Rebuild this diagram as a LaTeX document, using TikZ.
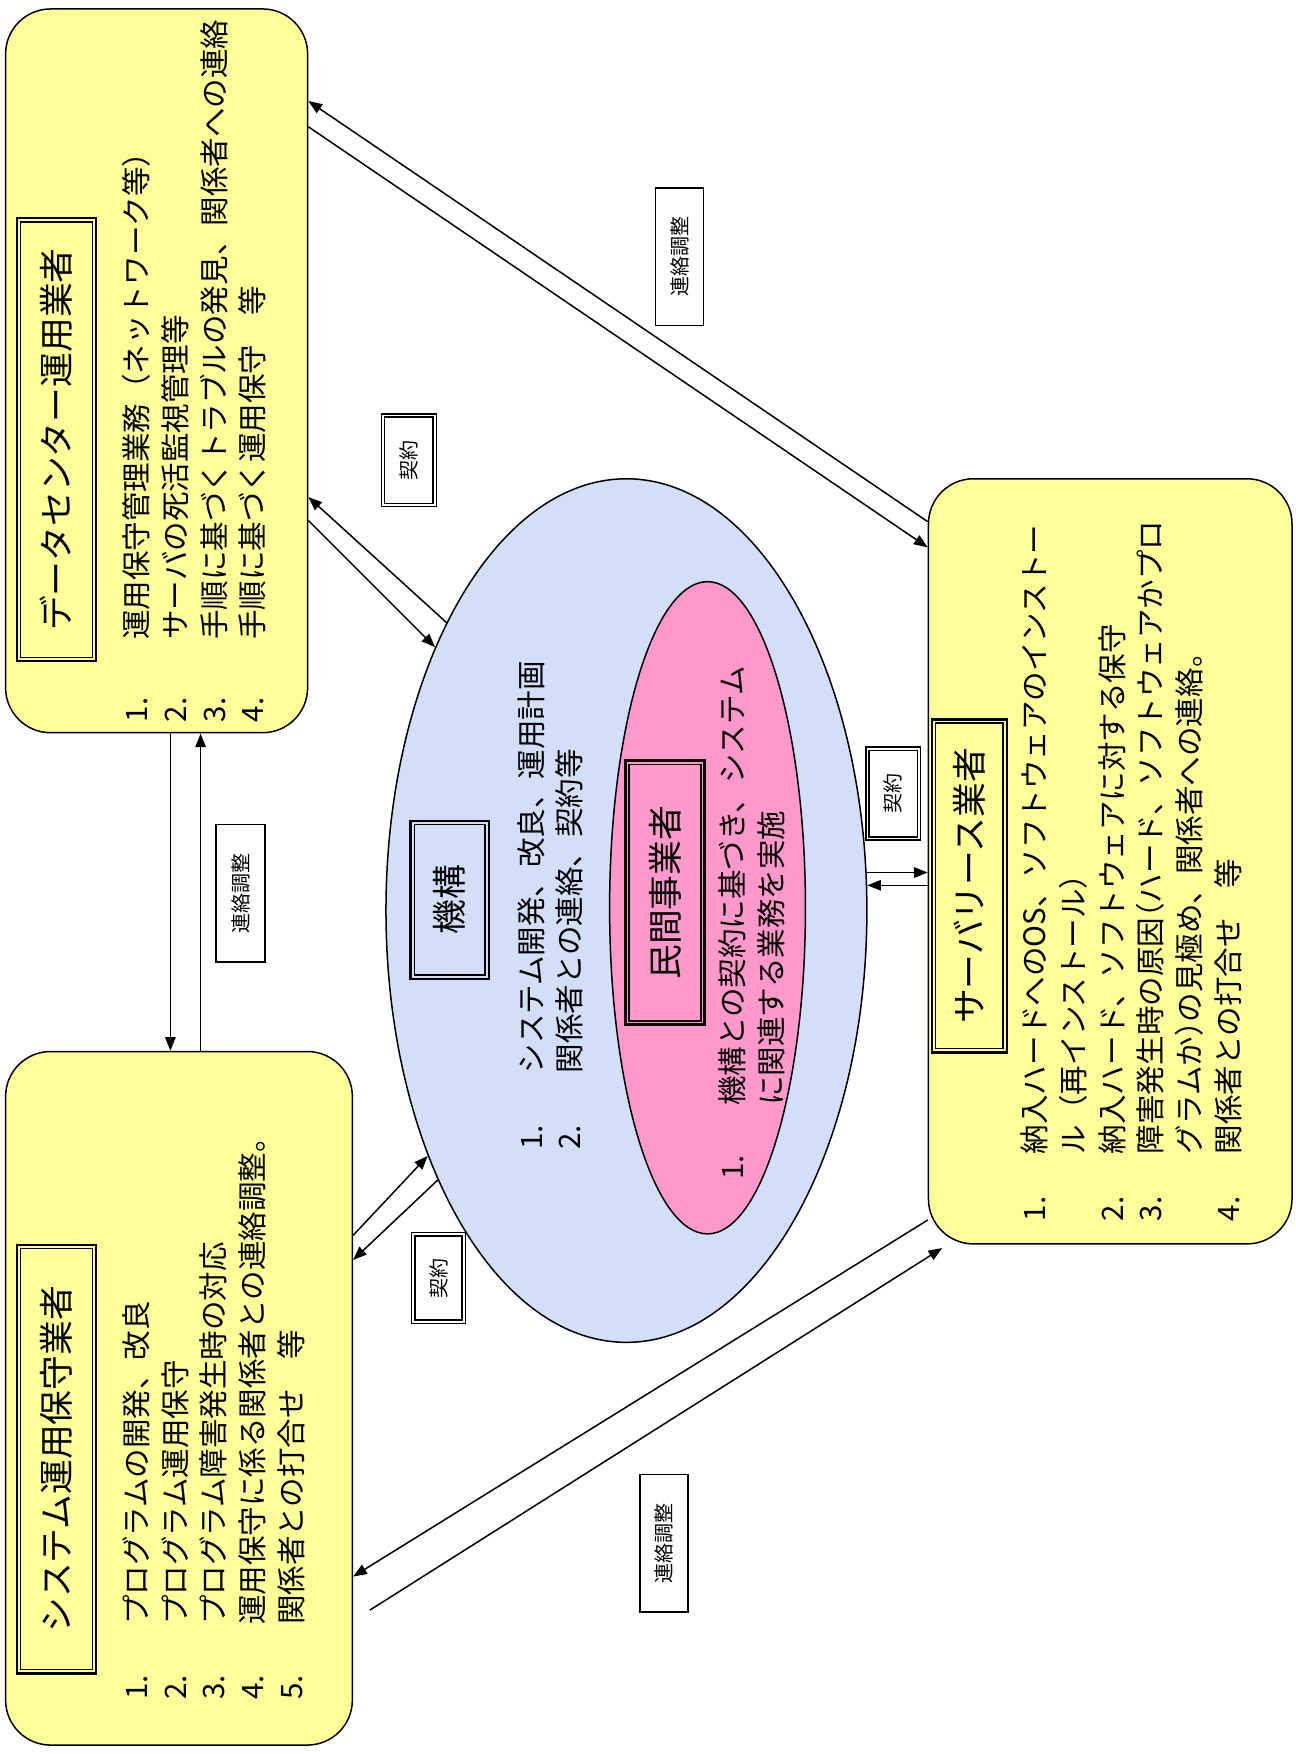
\documentclass[tikz,border=0pt]{standalone}
\usepackage{fontspec}
\setmainfont{Noto Sans CJK JP}
\usetikzlibrary{arrows.meta,calc,fit,shapes.geometric}

\definecolor{panelyellow}{RGB}{255,255,153}
\definecolor{agencyblue}{RGB}{211,222,248}
\definecolor{privatepink}{RGB}{255,153,204}

% numbered list helpers
\newlength\numw
\newcommand\numitem[1]{\makebox[\numw][l]{#1}}
\newcommand\contline{\hspace*{\numw}}
% half-width full-form parentheses
\newcommand\po{\makebox[.5em][r]{（}}
\newcommand\pc{\makebox[.5em][l]{）}}
% thin second frame inside a named box
\newcommand\innerframe[3]{\draw[line width=#3] ($(#1.north west)+(#2,#2)$) rectangle ($(#1.south east)-(#2,#2)$);}

\tikzset{
  panel/.style={draw, line width=0.6pt, fill=panelyellow, rounded corners=18pt, inner sep=0pt},
  titlebox/.style={draw, line width=1pt, inner sep=0pt},
  titletext/.style={rotate=90, inner sep=0pt, font=\fontsize{13.9pt}{16pt}\selectfont},
  listtext/.style={rotate=90, anchor=north west, inner sep=0pt, align=left,
    font=\fontsize{11.8pt}{15.5pt}\selectfont},
  numwidth/.code={\global\numw=#1\relax},
  linkbox/.style={draw, line width=0.6pt, fill=white, inner sep=0pt},
  linktext/.style={rotate=90, inner sep=0pt, font=\fontsize{8pt}{9.5pt}\selectfont},
  conn/.style={line width=0.6pt, -{Triangle[length=5.5pt,width=4.2pt]}},
}

\begin{document}
\begin{tikzpicture}[x=0.4473pt, y=-0.4473pt]
\fill[white] (0,0) rectangle (1158,1568);
\useasboundingbox (0,0) rectangle (1158,1568);

% ---------- panels ----------
\node[panel, fit={(5,8) (275,655)}] (dc) {};
\node[panel, fit={(5,940) (315,1560)}] (sys) {};
\node[panel, fit={(830,428) (1155,1112)}] (srv) {};

% ---------- agency / private operator ellipses ----------
\node[ellipse, draw, line width=0.6pt, fill=agencyblue, inner sep=0pt,
      minimum width=192.3pt, minimum height=345.3pt] (ell) at (560,814) {};
\node[ellipse, draw, line width=0.6pt, fill=privatepink, inner sep=0pt,
      minimum width=78.3pt, minimum height=260.8pt] (inner) at (632.5,811.5) {};

% ---------- titles ----------
\node[titlebox, fit={(15,195) (86,591)}] (dct) {};
\innerframe{dct}{4.5}{0.5pt}
\node[titletext] (dctlabel) at (dct.center) {データセンター運用業者};
\node[titlebox, fit={(15,1113) (86,1496)}] (syst) {};
\innerframe{syst}{4.5}{0.5pt}
\node[titletext] (systlabel) at (syst.center) {システム運用保守業者};
\node[titlebox, fit={(833,643) (900,941)}] (srvt) {};
\innerframe{srvt}{4.5}{0.5pt}
\node[titletext] (srvtlabel) at (srvt.center) {サーバリース業者};
\node[titlebox, fit={(367,734) (437,875)}] (kikot) {};
\innerframe{kikot}{4.5}{0.5pt}
\node[titletext] (kikotlabel) at (kikot.center) {機構};
\node[titlebox, fit={(559,680) (630,916)}] (mint) {};
\innerframe{mint}{4.5}{0.5pt}
\node[titletext] (mintlabel) at (mint.center) {民間事業者};

% ---------- lists ----------
\node[listtext, numwidth=33pt] (dclist) at (109,646) {%
\numitem{1.}運用保守管理業務（ネットワーク等）\\
\numitem{2.}サーバの死活監視管理等\\
\numitem{3.}手順に基づくトラブルの発見、関係者への連絡\\
\numitem{4.}手順に基づく運用保守　等};

\node[listtext, numwidth=30pt] (syslist) at (109,1520) {%
\numitem{1.}プログラムの開発、改良\\
\numitem{2.}プログラム運用保守\\
\numitem{3.}プログラム障害発生時の対応\\
\numitem{4.}運用保守に係る関係者との連絡調整。\\
\numitem{5.}関係者との打合せ　等};

\node[listtext, numwidth=26.8pt] (srvlist) at (912,1092) {%
\numitem{1.}納入ハードへのOS、ソフトウェアのインストー\\
\contline ル（再インストール）\\
\numitem{2.}納入ハード、ソフトウェアに対する保守\\
\numitem{3.}障害発生時の原因\po ハード、ソフトウェアかプロ\\
\contline グラムか\pc の見極め、関係者への連絡。\\
\numitem{4.}関係者との打合せ　等};

\node[listtext, numwidth=30.4pt] (elllist) at (462,1028) {%
\numitem{1.}システム開発、改良、運用計画\\
\numitem{2.}関係者との連絡、契約等};

\node[listtext, numwidth=29.5pt] (innerlist) at (642,1055) {%
\numitem{1.}機構との契約に基づき、システム\\
\contline に関連する業務を実施};

% ---------- connectors ----------
% data centre <-> server lessor
\draw[conn] ($(srv.north west)+(0,39)$) -- ($(dc.north east)+(0,83)$);
\draw[conn] ($(dc.north east)+(0,106)$) -- ($(srv.north west)+(0,62)$);
% data centre <-> system maintenance
\draw[conn] ($(dc.south west)+(148,0)$) -- ($(sys.north west)+(148,0)$);
\draw[conn] ($(sys.north west)+(175,0)$) -- ($(dc.south west)+(175,0)$);
% data centre <-> agency
\draw[conn] (ell.122.5) -- ($(dc.north east)+(0,437)$);
\draw[conn] ($(dc.north east)+(0,458)$) -- (ell.126.3);
% system maintenance <-> agency
\draw[conn] ($(sys.north east)+(0,165)$) -- (ell.231.9);
\draw[conn] (ell.235.3) -- ($(sys.north east)+(0,187)$);
% agency <-> server lessor
\draw[conn] (ell.9.8) -- (srv.west |- ell.9.8);
\draw[conn] (srv.west |- ell.6.4) -- (ell.6.4);
% server lessor <-> system maintenance
\draw[conn] ($(srv.south west)+(0,-22)$) -- ($(sys.north east)+(0,470)$);
\draw[conn] ($(sys.north east)+(15,500)$) -- ($(srv.south west)+(13,3)$);

% ---------- connector labels ----------
\node[linkbox, fit={(586,168) (629,291)}] (coord1) {};
\node[linktext] (coord1label) at (coord1.center) {連絡調整};
\node[linkbox, fit={(193,737) (237,860)}] (coord2) {};
\node[linktext] (coord2label) at (coord2.center) {連絡調整};
\node[linkbox, fit={(572,1318) (615,1441)}] (coord3) {};
\node[linktext] (coord3label) at (coord3.center) {連絡調整};
\node[linkbox, fit={(341,370) (390,453)}] (contract1) {};
\innerframe{contract1}{3.5}{0.6pt}
\node[linktext] (contract1label) at (contract1.center) {契約};
\node[linkbox, fit={(368,1102) (416,1183)}] (contract2) {};
\innerframe{contract2}{3.5}{0.6pt}
\node[linktext] (contract2label) at (contract2.center) {契約};
\node[linkbox, fit={(774,668) (823,751)}] (contract3) {};
\innerframe{contract3}{3.5}{0.6pt}
\node[linktext] (contract3label) at (contract3.center) {契約};
\end{tikzpicture}
\end{document}
